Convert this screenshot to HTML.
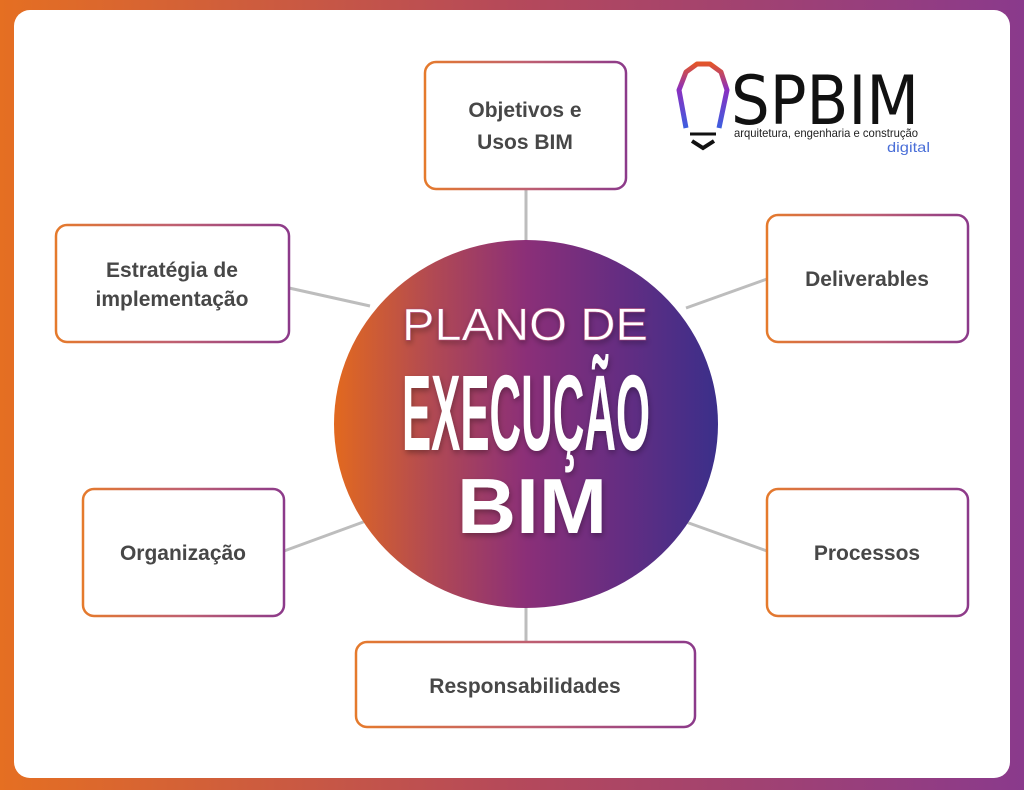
<!DOCTYPE html>
<html><head><meta charset="utf-8"><style>
html,body{margin:0;padding:0;width:1024px;height:790px;overflow:hidden}
svg{display:block}
</style></head><body>
<svg width="1024" height="790" viewBox="0 0 1024 790" xmlns="http://www.w3.org/2000/svg">
<defs>
<linearGradient id="bg" x1="0" y1="0" x2="1" y2="0">
<stop offset="0" stop-color="#e56f22"/><stop offset="0.5" stop-color="#b5495a"/><stop offset="1" stop-color="#8a3a8c"/>
</linearGradient>
<linearGradient id="circ" x1="0" y1="0" x2="1" y2="0">
<stop offset="0" stop-color="#e2691f"/><stop offset="0.25" stop-color="#b24a52"/><stop offset="0.5" stop-color="#8b2f78"/><stop offset="0.75" stop-color="#642d82"/><stop offset="1" stop-color="#3b2f8a"/>
</linearGradient>
<linearGradient id="bord" x1="0" y1="0" x2="1" y2="0">
<stop offset="0" stop-color="#e57a2c"/><stop offset="0.5" stop-color="#c06070"/><stop offset="1" stop-color="#8c3a8a"/>
</linearGradient>
<linearGradient id="bulb" x1="0" y1="0" x2="0" y2="1">
<stop offset="0" stop-color="#e2552b"/><stop offset="0.4" stop-color="#8a2fc0"/><stop offset="1" stop-color="#3d5fe0"/>
</linearGradient>
<filter id="sh" x="-10%" y="-10%" width="120%" height="130%"><feDropShadow dx="1" dy="3" stdDeviation="3" flood-color="#000" flood-opacity="0.3"/></filter>
</defs>
<rect width="1024" height="790" fill="url(#bg)"/>
<rect x="14" y="10" width="996" height="768" rx="16" fill="#fff"/>
<g stroke="#bdbdbd" stroke-width="3">
<line x1="526" y1="189" x2="526" y2="245"/>
<line x1="289" y1="288" x2="370" y2="306"/>
<line x1="767" y1="279" x2="686" y2="308"/>
<line x1="284" y1="551" x2="366" y2="521"/>
<line x1="767" y1="551" x2="686" y2="522"/>
<line x1="526" y1="605" x2="526" y2="643"/>
</g>
<g fill="#fff" stroke="url(#bord)" stroke-width="2.5">
<rect x="425" y="62" width="201" height="127" rx="11"/>
<rect x="56" y="225" width="233" height="117" rx="11"/>
<rect x="767" y="215" width="201" height="127" rx="11"/>
<rect x="83" y="489" width="201" height="127" rx="11"/>
<rect x="767" y="489" width="201" height="127" rx="11"/>
<rect x="356" y="642" width="339" height="85" rx="11"/>
</g>
<g font-family="Liberation Sans, sans-serif" font-weight="bold" font-size="21" fill="#474747" text-anchor="middle">
<text x="525" y="117">Objetivos e</text>
<text x="525" y="149">Usos BIM</text>
<text x="172" y="277">Estratégia de</text>
<text x="172" y="306">implementação</text>
<text x="867" y="286">Deliverables</text>
<text x="183" y="560">Organização</text>
<text x="867" y="560">Processos</text>
<text x="525" y="693">Responsabilidades</text>
</g>
<ellipse cx="526" cy="424" rx="192" ry="184" fill="url(#circ)"/>
<g fill="#fff" filter="url(#sh)" font-family="Liberation Sans, sans-serif">
<text x="402" y="340" font-size="45" textLength="246" lengthAdjust="spacingAndGlyphs" stroke="#b04a7a" stroke-width="0.6">PLANO DE</text>
<text x="402" y="450" font-size="108" font-weight="bold" font-family="Liberation Sans Narrow, Liberation Sans, sans-serif" textLength="248" lengthAdjust="spacingAndGlyphs">EXECUÇÃO</text>
<text x="457" y="533" font-size="78" font-weight="bold" textLength="150" lengthAdjust="spacingAndGlyphs">BIM</text>
</g>
<path d="M686 128 L679 90 L686 72 L697 64 L710 64 L721 72 L727 90 L719 128" fill="none" stroke="url(#bulb)" stroke-width="5" stroke-linejoin="round"/>
<line x1="690" y1="134" x2="716" y2="134" stroke="#111" stroke-width="3"/>
<path d="M692 141 L703 148 L714 141" fill="none" stroke="#111" stroke-width="4"/>
<text x="731" y="124" font-family="DejaVu Sans, sans-serif" font-size="68" fill="#111" textLength="188" lengthAdjust="spacingAndGlyphs">SPBIM</text>
<text x="734" y="137" font-family="Liberation Sans, sans-serif" font-size="12" fill="#222" textLength="184" lengthAdjust="spacingAndGlyphs">arquitetura, engenharia e construção</text>
<text x="887" y="152" font-family="Liberation Sans, sans-serif" font-size="14" fill="#4a6fd8" textLength="43" lengthAdjust="spacingAndGlyphs">digital</text>
</svg>
</body></html>
